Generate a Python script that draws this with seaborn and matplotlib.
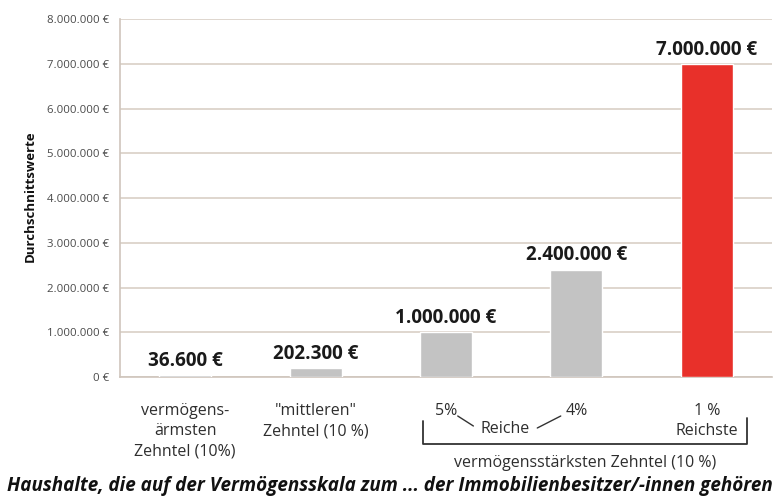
import matplotlib
matplotlib.use("Agg")
import matplotlib.pyplot as plt
import matplotlib.transforms as mtransforms
import seaborn as sns
import pandas as pd

categories = ["armste", "mittlere", "5%", "4%", "1%"]
values = [36600, 202300, 1000000, 2400000, 7000000]
value_labels = ["36.600 €", "202.300 €", "1.000.000 €", "2.400.000 €", "7.000.000 €"]
bar_colors = ["#c3c3c3", "#c3c3c3", "#c3c3c3", "#c3c3c3", "#e8302a"]
tick_labels = ["vermögens-\närmsten\nZehntel (10%)", "\"mittleren\"\nZehntel (10 %)",
               "5%", "4%", "1 %\nReichste"]
yticks = [0, 1000000, 2000000, 3000000, 4000000, 5000000, 6000000, 7000000, 8000000]
ytick_labels = ["0 €", "1.000.000 €", "2.000.000 €", "3.000.000 €", "4.000.000 €",
                "5.000.000 €", "6.000.000 €", "7.000.000 €", "8.000.000 €"]
ylabel = "Durchschnittswerte"
group_label = "Reiche"
bracket_label = "vermögensstärksten Zehntel (10 %)"
title = "Haushalte, die auf der Vermögensskala zum ... der Immobilienbesitzer/-innen gehören"

sns.set_theme(style="white")
plt.rcParams["font.family"] = ["Open Sans", "DejaVu Sans"]

W, H = 779, 498
fig = plt.figure(figsize=(W / 100, H / 100), dpi=100)
ax = fig.add_axes([120 / W, 1 - 377 / H, 652 / W, 358 / H])

df = pd.DataFrame({"cat": categories, "val": values})
sns.barplot(data=df, x="cat", y="val", hue="cat", palette=bar_colors, legend=False,
            width=0.4, saturation=1, ax=ax, zorder=3)

grid_c = "#d9cfc6"
txt_c = "#2e2e2e"
ax.set_xlim(-0.5, 4.5)
ax.set_ylim(0, 8000000)
ax.set_yticks(yticks)
ax.set_yticklabels(ytick_labels, fontsize=8.2, color="#4a4a4a")
ax.yaxis.grid(True, color=grid_c, linewidth=1.2, zorder=0)
ax.tick_params(axis="y", length=4, width=1, color=grid_c, pad=4)
for s in ["top", "right"]:
    ax.spines[s].set_visible(False)
for s in ["left", "bottom"]:
    ax.spines[s].set_color("#cfc5bc")
    ax.spines[s].set_linewidth(1.2)

ax.set_xticks(range(len(categories)))
ax.set_xticklabels(tick_labels, fontsize=11.5, color=txt_c, linespacing=1.33)
ax.tick_params(axis="x", length=0, pad=19)
ax.set_xticks([i - 0.5 for i in range(len(categories) + 1)], minor=True)
ax.tick_params(axis="x", which="minor", length=5, width=1, color=grid_c)
ax.set_xlabel("")
ax.set_ylabel(ylabel, fontsize=9.5, fontweight="bold", color="#111111")
ax.yaxis.set_label_coords(-0.128, 0.505)

for i, (v, lab) in enumerate(zip(values, value_labels)):
    ax.annotate(lab, xy=(i, v), xytext=(0, 3), textcoords="offset points",
                ha="center", va="bottom", fontsize=13.6, fontweight="bold", color="#1a1a1a")

# bracket and group labels (x in data units, y in figure fraction)
tr = mtransforms.blended_transform_factory(ax.transData, fig.transFigure)
def fy(py):
    return 1 - py / H
bl, br = 2 - 0.18, 4 + 0.31
lc = "#333333"
ax.plot([bl, bl, br, br], [fy(421), fy(444), fy(444), fy(418)], transform=tr,
        color=lc, linewidth=1.3, clip_on=False)
ax.text(2.45, fy(429), group_label, transform=tr, ha="center", va="center",
        fontsize=11.5, color=txt_c)
ax.plot([2.09, 2.21], [fy(416), fy(426)], transform=tr, color=lc, linewidth=1, clip_on=False)
ax.plot([2.70, 2.88], [fy(428), fy(416)], transform=tr, color=lc, linewidth=1, clip_on=False)
ax.text((bl + br) / 2, fy(463), bracket_label, transform=tr, ha="center", va="center",
        fontsize=11.5, color=txt_c)

fig.text(0.5, fy(486), title, ha="center", va="center", fontsize=13.6,
         fontweight="bold", fontstyle="italic", color="#111111")

fig.savefig("out.png", dpi=100)
